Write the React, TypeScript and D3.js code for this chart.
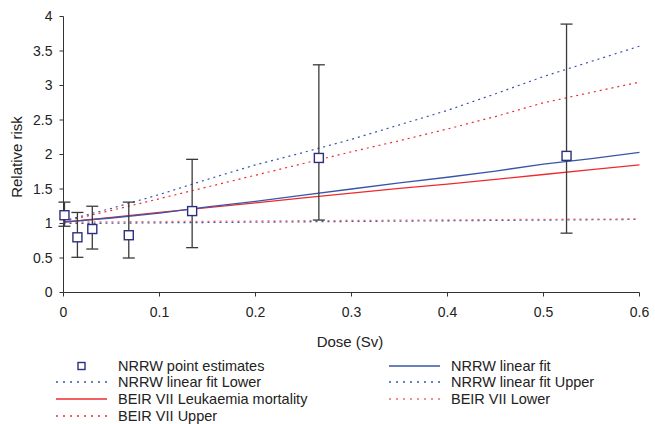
import React from "react";
import * as d3 from "d3";

const pointDose = [0.001, 0.0145, 0.03, 0.068, 0.134, 0.266, 0.524];
const pointRR = [1.12, 0.8, 0.92, 0.83, 1.18, 1.95, 1.98];
const pointLow = [0.96, 0.51, 0.63, 0.5, 0.65, 1.05, 0.86];
const pointHigh = [1.31, 1.16, 1.25, 1.31, 1.93, 3.3, 3.89];

const fitDose = [0, 0.05, 0.1, 0.15, 0.2, 0.25, 0.3, 0.35, 0.4, 0.45, 0.5, 0.55, 0.6];
const nrrwFit = [1.02, 1.08, 1.15, 1.24, 1.32, 1.41, 1.5, 1.59, 1.67, 1.76, 1.86, 1.94, 2.03];
const nrrwUpper = [1.04, 1.22, 1.42, 1.64, 1.85, 2.03, 2.22, 2.43, 2.64, 2.88, 3.13, 3.35, 3.57];
const nrrwLower = [1.0, 1.005, 1.01, 1.015, 1.02, 1.025, 1.03, 1.035, 1.04, 1.045, 1.05, 1.055, 1.06];
const beirFit = [1.02, 1.09, 1.16, 1.23, 1.3, 1.37, 1.44, 1.51, 1.57, 1.64, 1.71, 1.78, 1.85];
const beirUpper = [1.03, 1.19, 1.36, 1.53, 1.7, 1.87, 2.04, 2.2, 2.37, 2.55, 2.75, 2.9, 3.05];
const beirLower = [1.02, 1.024, 1.028, 1.032, 1.036, 1.04, 1.044, 1.048, 1.052, 1.056, 1.06, 1.063, 1.066];

const xTicks = [0, 0.1, 0.2, 0.3, 0.4, 0.5, 0.6];
const yTicks = [0, 0.5, 1, 1.5, 2, 2.5, 3, 3.5, 4];

const BLUE = "#3a55a8";
const RED = "#ee2a2f";
const PINK = "#f46a6e";
const NAVY = "#2b2f7e";
const FONT = "Liberation Sans, Arial, sans-serif";

export default function App() {
  const x = d3.scaleLinear().domain([0, 0.6]).range([63.5, 639.5]);
  const y = d3.scaleLinear().domain([0, 4]).range([292.5, 16.5]);
  const line = (vals: number[]) =>
    d3.line<number>().x((_, i) => x(fitDose[i])).y((v) => y(v))(vals) || "";

  const series = [
    { vals: nrrwLower, color: BLUE, dash: "2,4", w: 1.3 },
    { vals: beirLower, color: PINK, dash: "2,4", w: 1.3 },
    { vals: beirUpper, color: RED, dash: "2,4", w: 1.2 },
    { vals: nrrwUpper, color: BLUE, dash: "2,4", w: 1.2 },
    { vals: beirFit, color: RED, dash: "", w: 1.3 },
    { vals: nrrwFit, color: BLUE, dash: "", w: 1.3 },
  ];

  const legendLeft = [
    { label: "NRRW point estimates", type: "square" },
    { label: "NRRW linear fit Lower", type: "line", color: BLUE, dash: "2,5" },
    { label: "BEIR VII Leukaemia mortality", type: "line", color: RED, dash: "" },
    { label: "BEIR VII Upper", type: "line", color: RED, dash: "2,5" },
  ];
  const legendRight = [
    { label: "NRRW linear fit", type: "line", color: BLUE, dash: "" },
    { label: "NRRW linear fit Upper", type: "line", color: BLUE, dash: "2,5" },
    { label: "BEIR VII Lower", type: "line", color: PINK, dash: "2,5" },
  ];
  const rowY = [366, 382, 399, 416];

  const renderLegend = (items: any[], x0: number, x1: number, tx: number) =>
    items.map((it, i) => (
      <g key={it.label}>
        {it.type === "square" ? (
          <rect x={(x0 + x1) / 2 - 3.5} y={rowY[i] - 3.5} width={7} height={7} fill="#fff" stroke={NAVY} strokeWidth={1.4} />
        ) : (
          <line x1={x0} x2={x1} y1={rowY[i]} y2={rowY[i]} stroke={it.color} strokeWidth={1.3} strokeDasharray={it.dash} />
        )}
        <text x={tx} y={rowY[i]} dy="0.35em" fontSize={14.5} fill="#222" fontFamily={FONT}>
          {it.label}
        </text>
      </g>
    ));

  return (
    <svg width={655} height={424} style={{ position: "absolute", left: 0, top: 0, background: "#fff" }}>
      {/* axes */}
      <line x1={x(0)} x2={x(0)} y1={y(4)} y2={y(0)} stroke="#333" strokeWidth={1} />
      <line x1={x(0)} x2={x(0.6)} y1={y(0)} y2={y(0)} stroke="#333" strokeWidth={1} />
      {yTicks.map((t) => (
        <g key={"y" + t}>
          <line x1={x(0) - 4} x2={x(0)} y1={y(t)} y2={y(t)} stroke="#333" />
          <text x={x(0) - 11} y={y(t)} dy="0.35em" textAnchor="end" fontSize={14} fill="#222" fontFamily={FONT}>
            {t}
          </text>
        </g>
      ))}
      {xTicks.map((t) => (
        <g key={"x" + t}>
          <line x1={x(t)} x2={x(t)} y1={y(0)} y2={y(0) + 4} stroke="#333" />
          <text x={x(t)} y={y(0) + 24} textAnchor="middle" fontSize={14} fill="#222" fontFamily={FONT}>
            {t}
          </text>
        </g>
      ))}
      <text transform={`translate(22,157) rotate(-90)`} textAnchor="middle" fontSize={15} fill="#222" fontFamily={FONT}>
        Relative risk
      </text>
      <text x={350} y={342} dy="0.35em" textAnchor="middle" fontSize={15} fill="#222" fontFamily={FONT}>
        Dose (Sv)
      </text>

      {/* lines */}
      {series.map((s, i) => (
        <path key={i} d={line(s.vals)} fill="none" stroke={s.color} strokeWidth={s.w} strokeDasharray={s.dash} />
      ))}

      {/* error bars */}
      {pointDose.map((d, i) => (
        <g key={"e" + i} stroke="#3a3a3a" strokeWidth={1.3}>
          <line x1={x(d)} x2={x(d)} y1={y(pointHigh[i])} y2={y(pointLow[i])} />
          <line x1={x(d) - 6} x2={x(d) + 6} y1={y(pointHigh[i])} y2={y(pointHigh[i])} />
          <line x1={x(d) - 6} x2={x(d) + 6} y1={y(pointLow[i])} y2={y(pointLow[i])} />
        </g>
      ))}
      {pointDose.map((d, i) => (
        <rect key={"p" + i} x={x(d) - 4.5} y={y(pointRR[i]) - 4.5} width={9} height={9} fill="#fff" stroke={NAVY} strokeWidth={1.4} />
      ))}

      {/* legend */}
      {renderLegend(legendLeft, 56, 107, 118)}
      {renderLegend(legendRight, 389, 440, 451)}
    </svg>
  );
}
